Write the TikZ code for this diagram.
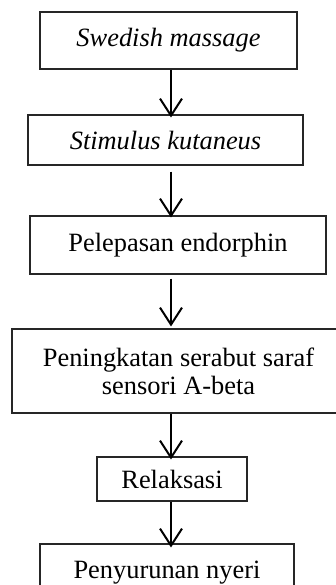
\documentclass[tikz,border=0pt]{standalone}
\usepackage{fontspec}
\setmainfont{Liberation Serif}
\usetikzlibrary{arrows.meta}
\begin{document}
\begin{tikzpicture}[x=1pt,y=1pt,
  box/.style={draw=black!85, line width=1.1pt, rectangle, inner sep=0pt, align=center,
    font=\fontsize{26.4}{28}\selectfont},
  arr/.style={line width=2pt, -{Straight Barb[length=17pt,width=22pt,line width=2pt]}}]
\useasboundingbox (0,0) rectangle (336,-585);
\node[box, minimum width=257pt, minimum height=57pt] (b1) at (168.5,-40.5) {\itshape Swedish massage};
\node[box, minimum width=275pt, minimum height=50pt] (b2) at (165.5,-140) {\itshape Stimulus kutaneus};
\node[box, minimum width=296pt, minimum height=58pt] (b3) at (178,-245) {Pelepasan endorphin};
\node[box, minimum width=333pt, minimum height=84pt] (b4) at (178.5,-371) {Peningkatan serabut saraf\\sensori A-beta};
\node[box, minimum width=150pt, minimum height=44pt] (b5) at (172,-479) {Relaksasi};
\node[box, minimum width=254pt, minimum height=58pt] (b6) at (167,-573) {Penyurunan nyeri};
\coordinate (ax) at (171,0);
\draw[arr, shorten >=-3pt] (b1.south -| ax) -- (b2.north -| ax);
\draw[arr, shorten <=6pt, shorten >=-2pt] (b2.south -| ax) -- (b3.north -| ax);
\draw[arr, shorten <=4pt, shorten >=2pt] (b3.south -| ax) -- (b4.north -| ax);
\draw[arr, shorten >=-3pt] (b4.south -| ax) -- (b5.north -| ax);
\draw[arr, shorten >=-4pt] (b5.south -| ax) -- (b6.north -| ax);
\end{tikzpicture}
\end{document}
